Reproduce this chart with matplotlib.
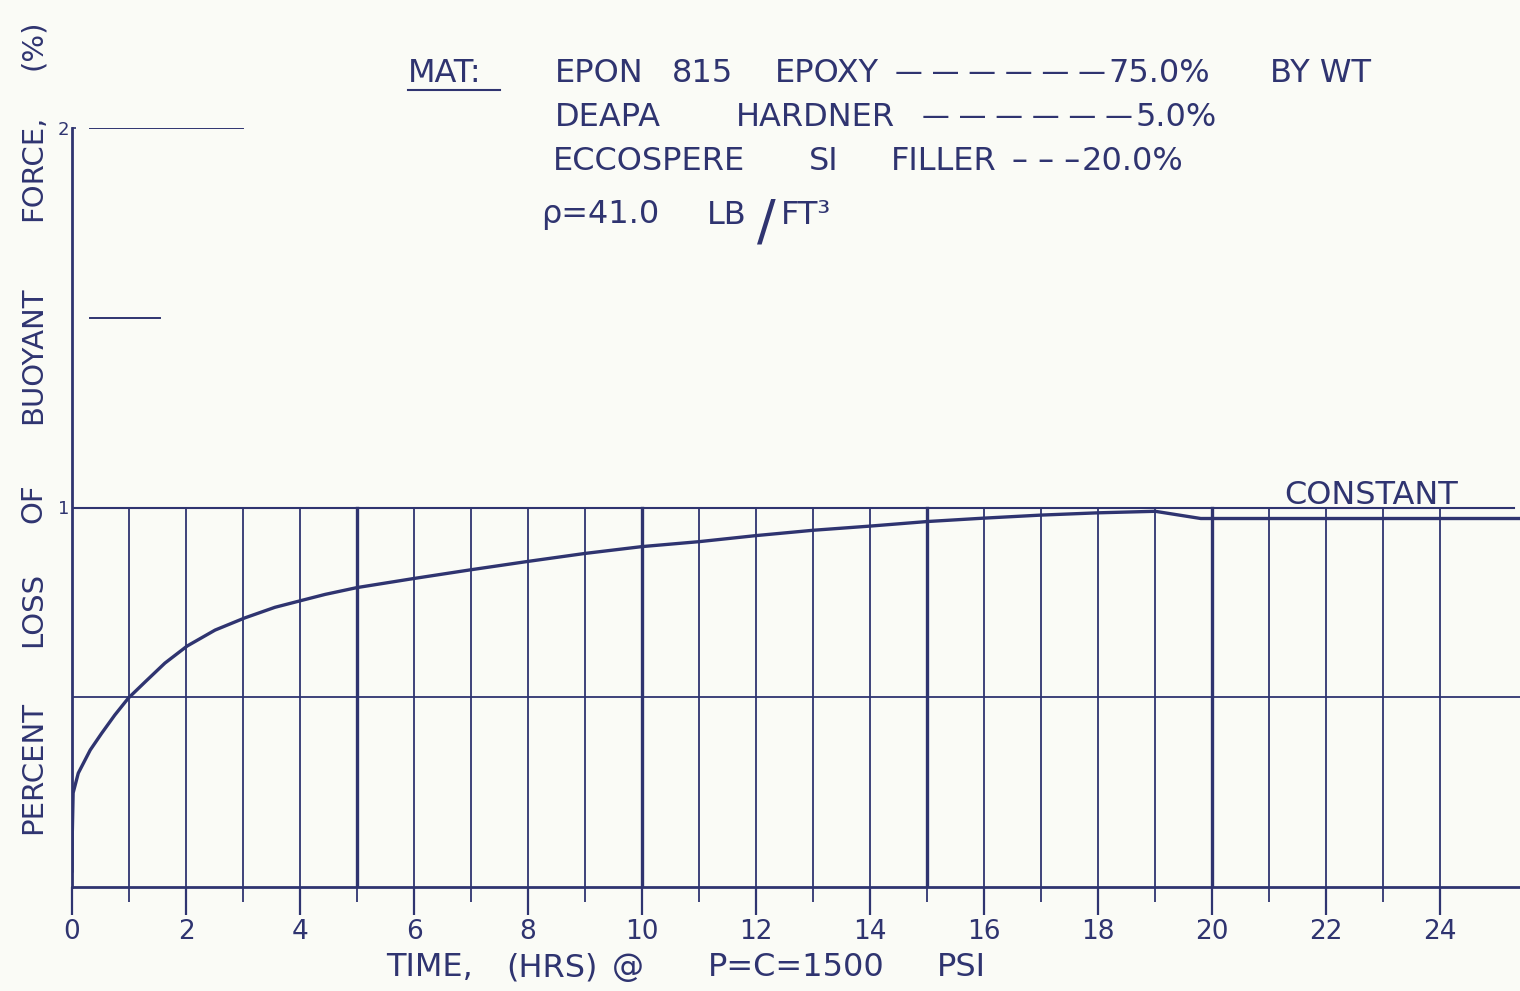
import matplotlib
matplotlib.use("Agg")
import matplotlib.pyplot as plt

# ---- data ----
hours = [0, 0.005, 0.02, 0.11, 0.32, 0.52, 0.75, 0.99, 1.28, 1.63, 2.02,
         2.51, 3.03, 3.56, 4.05, 4.44, 5, 6, 7, 8, 9, 10, 11, 12, 13, 14,
         15, 16, 17, 18, 19, 19.8, 25.4]
loss = [0.04, 0.14, 0.248, 0.30, 0.361, 0.405, 0.453, 0.498, 0.54, 0.59,
        0.635, 0.677, 0.709, 0.737, 0.756, 0.771, 0.789, 0.813, 0.836, 0.858,
        0.879, 0.897, 0.91, 0.926, 0.94, 0.951, 0.963, 0.972, 0.98, 0.986,
        0.99, 0.971, 0.971]
x_major = list(range(0, 25, 2))
x_minor = list(range(1, 24, 2))
x_labels = [str(v) for v in x_major]
y_ticks = [1, 2]
y_labels = ["1", "2"]
grid_hours = list(range(1, 25))
heavy_hours = [5, 10, 15, 20]

INK = "#2f3470"
BG = "#fafbf6"
W, H = 1520, 991

fig = plt.figure(figsize=(15.2, 9.91), dpi=100, facecolor=BG)
ax = fig.add_axes([72 / W, 1 - 887 / H, 1 - 72 / W, (887 - 128) / H])
ax.set_facecolor(BG)
ax.set_xlim(0, 25.4)
ax.set_ylim(0, 2)

for s in ["top", "right"]:
    ax.spines[s].set_visible(False)
for s in ["left", "bottom"]:
    ax.spines[s].set_color(INK)
    ax.spines[s].set_linewidth(2.0)

# grid (vertical lines only from 0 to 1)
for h in grid_hours:
    lw = 2.4 if h in heavy_hours else 1.3
    ax.plot([h, h], [0, 1], color=INK, lw=lw, zorder=2)

# horizontal rules
ax.plot([0, 25.3], [1, 1], color=INK, lw=1.5, zorder=2)
ax.plot([0, 25.4], [0.5, 0.5], color=INK, lw=1.3, zorder=2)
ax.plot([0.32, 3.0], [2, 2], color=INK, lw=1.4, zorder=2)
ax.plot([0.32, 1.54], [1.5, 1.5], color=INK, lw=1.4, zorder=2)

# curve
ax.plot(hours, loss, color=INK, lw=2.4, zorder=3, solid_capstyle="round",
        solid_joinstyle="round")

# ticks
ax.set_xticks(x_major)
ax.set_xticklabels(x_labels)
ax.set_xticks(x_minor, minor=True)
ax.tick_params(axis="x", which="major", direction="out", length=20, width=1.6,
               color=INK, labelcolor=INK, labelsize=19, pad=3)
ax.tick_params(axis="x", which="minor", direction="out", length=11, width=1.3,
               color=INK)
ax.set_yticks(y_ticks)
ax.set_yticklabels(y_labels)
ax.tick_params(axis="y", which="major", direction="in", length=3, width=1.2,
               color=INK, labelcolor=INK, labelsize=13, pad=2)


def word(xp, yp, s, size=23, rot=0, ha="center"):
    fig.text(xp / W, 1 - yp / H, s, color=INK, fontsize=size, ha=ha,
             va="center", rotation=rot)


# annotation
word(1371, 495, "CONSTANT")

# header block
word(408, 73, "MAT:", ha="left")
fig.add_artist(plt.Line2D([408 / W, 500 / W], [1 - 90 / H, 1 - 90 / H],
                          color=INK, lw=1.5))
word(599, 73, "EPON")
word(703, 73, "815")
word(827, 73, "EPOXY")
word(1106, 73, "— — — — — —", size=20, ha="right")
word(1108, 73, "75.0%", ha="left")
word(1321, 73, "BY WT")

word(608, 117, "DEAPA")
word(815, 117, "HARDNER")
word(1133, 117, "— — — — — —", size=20, ha="right")
word(1135, 117, "5.0%", ha="left")

word(649, 162, "ECCOSPERE")
word(824, 162, "SI")
word(944, 162, "FILLER")
word(1080, 162, "– – –", ha="right")
word(1082, 162, "20.0%", ha="left")

word(600, 215, "ρ=41.0")
word(727, 215, "LB")
word(766, 224, "/", size=40)
word(806, 215, "FT³")

# x-axis title
word(429, 968, "TIME,")
word(552, 968, "(HRS)")
word(628, 968, "@")
word(796, 968, "P=C=1500")
word(961, 968, "PSI")

# y-axis title
word(33, 767, "PERCENT", size=21, rot=90)
word(33, 609, "LOSS", size=21, rot=90)
word(33, 503, "OF", size=21, rot=90)
word(33, 355, "BUOYANT", size=21, rot=90)
word(33, 168, "FORCE,", size=21, rot=90)
word(33, 45, "(%)", size=21, rot=90)

fig.savefig("out.png", dpi=100, facecolor=BG)
